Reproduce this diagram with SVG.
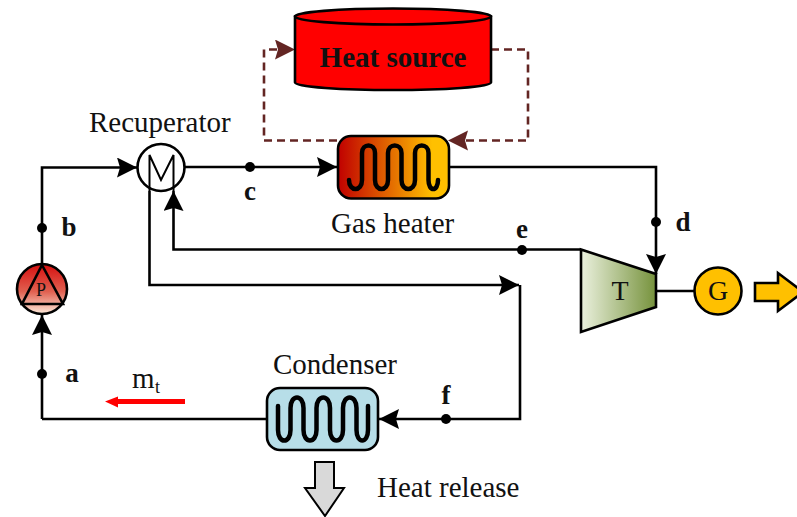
<svg xmlns="http://www.w3.org/2000/svg" width="797" height="517" viewBox="0 0 797 517">
<style>
text{font-family:"Liberation Serif","Times New Roman",serif;fill:#111}
.l{font-size:29px}
.b{font-size:27px;font-weight:bold;text-anchor:middle}
.w{fill:none;stroke:#000;stroke-width:2.600}
.c{fill:none;stroke:#000;stroke-width:4.500;stroke-linecap:round}
.d{fill:none;stroke:#632523;stroke-width:2.600;stroke-dasharray:8 5}
.o{stroke:#000;stroke-width:2.600}
</style>
<defs>
<marker id="a" markerUnits="userSpaceOnUse" markerWidth="21" markerHeight="21" refX="20" refY="10" orient="auto"><path d="M0 0L20 10L0 20L3 10Z" fill="#000"/></marker>
<marker id="h" markerUnits="userSpaceOnUse" markerWidth="21" markerHeight="21" refX="20" refY="10" orient="auto"><path d="M0 0L20 10L0 20L3 10Z" fill="#632523"/></marker>
<linearGradient id="gh"><stop offset="0" stop-color="#C00000"/><stop offset=".85" stop-color="#FFC000"/></linearGradient>
<linearGradient id="gp" x2="0" y2="1"><stop offset="0" stop-color="#D60F0F"/><stop offset=".55" stop-color="#E06050"/><stop offset="1" stop-color="#FDEADA"/></linearGradient>
<linearGradient id="gt"><stop offset="0" stop-color="#EBF1DE"/><stop offset="1" stop-color="#76923C"/></linearGradient>
</defs>
<g id="connectors">
<path class="w" marker-end="url(#a)" d="M42 265V167.500H137"/>
<path class="w" marker-end="url(#a)" d="M42 419V315"/>
<path class="w" d="M42 419H267"/>
<path class="w" marker-end="url(#a)" d="M185 167H337"/>
<path class="w" marker-end="url(#a)" d="M449 167H656V274"/>
<path class="w" marker-end="url(#a)" d="M581 249.500H173.500V191"/>
<path class="w" marker-end="url(#a)" d="M149.500 191V285H519"/>
<path class="w" marker-end="url(#a)" d="M520 285V419H379"/>
<path class="w" d="M656 291H694"/>
<path class="d" marker-end="url(#h)" d="M491 49.500H528V140.500H448"/>
<path class="d" marker-end="url(#h)" d="M337 140.500H264V49.500H295"/>
<g fill="#000"><circle cx="42" cy="228" r="5"/><circle cx="42" cy="374" r="5"/><circle cx="250" cy="167" r="5"/><circle cx="656" cy="222" r="5"/><circle cx="522" cy="250" r="5"/><circle cx="446" cy="419" r="5"/></g>
</g>
<g id="heat-source">
<path class="o" fill="#F00" d="M295 16.500V82.500C295 87 343 90 393 90S491 87 491 82.500V16.500Z"/>
<ellipse class="o" fill="#F00" cx="393" cy="16.500" rx="98" ry="8"/>
<text x="393" y="67" text-anchor="middle" font-size="29" font-weight="bold">Heat source</text>
</g>
<g id="gas-heater">
<rect class="o" x="338" y="136" width="111" height="62.500" rx="13" fill="url(#gh)"/>
<path class="c" d="M349 180C349 192 362 192 362 180V153C362 143 375 143 375 153V180C375 192 388 192 388 180V153C388 143 401.500 143 401.500 153V180C401.500 192 415 192 415 180V153C415 143 428.500 143 428.500 153V180C428.500 192 438 192 438 180"/>
<text class="l" x="331" y="233">Gas heater</text>
</g>
<g id="recuperator">
<circle cx="161" cy="167.500" r="23.500" fill="#fff" stroke="#000" stroke-width="2.600"/>
<path fill="none" stroke="#000" stroke-width="2" d="M149.500 191V155L161 180L173.500 155V191"/>
<text class="l" x="89" y="132">Recuperator</text>
</g>
<g id="pump">
<circle class="o" cx="42" cy="289" r="25" fill="url(#gp)"/>
<path class="w" d="M42 265L63 304H22Z"/>
<text x="41" y="296" text-anchor="middle" font-size="18">P</text>
</g>
<g id="turbine">
<path class="o" fill="url(#gt)" d="M581 249.500L656 274V307L581 332Z"/>
<text x="620" y="300" text-anchor="middle" font-size="28">T</text>
</g>
<g id="generator">
<circle class="o" cx="718" cy="291" r="23.500" fill="#FFC000"/>
<text x="718" y="300" text-anchor="middle" font-size="28">G</text>
</g>
<g id="power-arrow"><path class="o" fill="#FFC000" d="M755 283H778V273L803 292L778 311V301H755Z"/></g>
<g id="condenser">
<rect class="o" x="267" y="388" width="111" height="62" rx="13" fill="#B7DEE8"/>
<path class="c" d="M278 406V430C278 444 290.500 444 290.500 430V408C290.500 394 303.500 394 303.500 408V430C303.500 444 316.500 444 316.500 430V408C316.500 394 330 394 330 408V430C330 444 343 444 343 430V408C343 394 356.500 394 356.500 408V430C356.500 444 368 444 368 430V406"/>
<text class="l" x="273" y="374">Condenser</text>
</g>
<g id="heat-release">
<path fill="#D9D9D9" stroke="#000" stroke-width="2" d="M315 462H334V488H344L325 516L305 488H315Z"/>
<text class="l" x="377" y="497">Heat release</text>
</g>
<g id="flow-arrow">
<path fill="#F00" d="M185 399V404H118V407.500L105 401.500L118 396.500V399Z"/>
<text class="l" x="132" y="388">m</text><text x="155" y="393" font-size="18">t</text>
</g>
<g id="labels">
<text class="b" x="72" y="382">a</text><text class="b" x="69" y="236">b</text><text class="b" x="250" y="200">c</text><text class="b" x="683" y="231">d</text><text class="b" x="522" y="238">e</text><text class="b" x="446" y="404">f</text>
</g>
</svg>
